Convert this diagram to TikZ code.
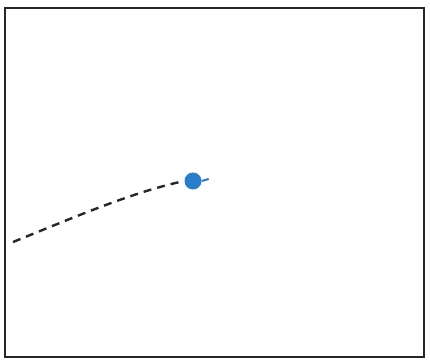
\documentclass[tikz,border=0pt]{standalone}
\definecolor{ballblue}{RGB}{40,125,205}
\begin{document}
\begin{tikzpicture}[x=1pt,y=1pt,
  frame/.style={draw=black!85,line width=2pt},
  path/.style={draw=black!85,line width=2.4pt,dash pattern=on 8pt off 6pt},
  dot/.style={circle,fill=ballblue,inner sep=0pt,minimum size=17pt}]
\useasboundingbox (0,0) rectangle (430,361);
\draw[frame] (5,4) rectangle (424,353);
\node[dot] (ball) at (193,180) {};
\coordinate (start) at (13,119);
\draw[path,shorten >=4pt] (start) .. controls (70,142) and (130,168) .. (ball.west);
\draw[ballblue,line width=2pt] (ball.east) -- ++(7,2);
\end{tikzpicture}
\end{document}
